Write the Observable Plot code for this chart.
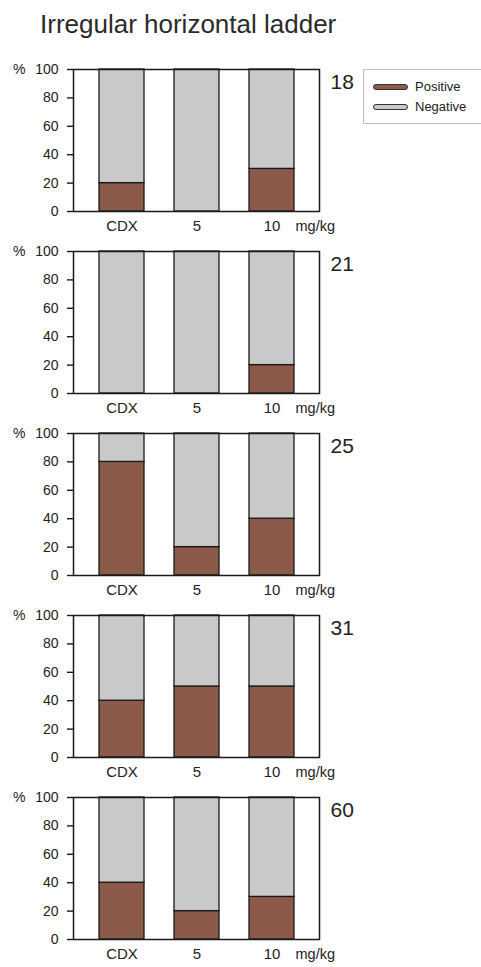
<!DOCTYPE html>
<html>
<head>
<meta charset="utf-8">
<script src="https://cdn.jsdelivr.net/npm/d3@7"></script>
<script src="https://cdn.jsdelivr.net/npm/@observablehq/plot@0.6"></script>
<style>
  html, body { margin: 0; padding: 0; background: #fff; }
  body { width: 481px; height: 967px; overflow: hidden; position: relative;
         font-family: "Liberation Sans", Arial, sans-serif; }
  #title { position: absolute; left: 40px; top: 9px; font-size: 26px; color: #2a2a2a;
           white-space: nowrap; }
  #chart { position: absolute; left: 0; top: 50px; }
  #legend { position: absolute; left: 363px; top: 69px; width: 130px; height: 55px;
            border: 1px solid #bdbdbd; box-sizing: border-box; font-size: 13px; color: #222; }
  .row { position: absolute; left: 9px; display: flex; align-items: center; }
  .sw { width: 33px; height: 4px; border: 1.5px solid #333; border-radius: 3px; margin-right: 7px; }
</style>
</head>
<body>
<div id="title">Irregular horizontal ladder</div>
<div id="chart"></div>
<div id="legend"></div>
<script>
// Days after dosing, one panel each
const days = [18, 21, 25, 31, 60];
// Treatment groups along the x axis
const doses = ["CDX", "5", "10"];
// Percent of animals scored positive, per day (rows) and dose (columns)
const positive = [
  [20, 0, 30],
  [0, 0, 20],
  [80, 20, 40],
  [40, 50, 50],
  [40, 20, 30]
];
const statuses = ["Positive", "Negative"];
const colors = ["#8c5a48", "#c9c9c9"];
const yTicks = [0, 20, 40, 60, 80, 100];

// Long table: positive share stacked under the negative remainder
const rows = [];
days.forEach((day, i) => {
  doses.forEach((dose, j) => {
    rows.push({day, dose, status: "Positive", value: positive[i][j]});
    rows.push({day, dose, status: "Negative", value: 100 - positive[i][j]});
  });
});

const chart = Plot.plot({
  width: 481,
  height: 916,
  marginTop: 19,
  marginLeft: 73,
  marginRight: 162,
  marginBottom: 27,
  style: {fontFamily: "Liberation Sans, Arial, sans-serif", color: "#222", background: "white"},
  x: {domain: doses, paddingInner: 0.4, paddingOuter: 0.34},
  y: {domain: [0, 100]},
  fy: {domain: days, paddingInner: 40 / 182, paddingOuter: 0, axis: null},
  color: {domain: statuses, range: colors},
  marks: [
    Plot.barY(rows.filter(d => d.value > 0), {
      x: "dose", y: "value", fy: "day", fill: "status",
      order: statuses, stroke: "#1a1a1a", strokeWidth: 1.3
    }),
    Plot.frame({stroke: "#1a1a1a", strokeWidth: 1.5}),
    Plot.axisY(yTicks, {
      facetAnchor: null, tickSize: 6, tickPadding: 9, fontSize: 14,
      strokeWidth: 1.4, stroke: "#1a1a1a", label: null,
      tickFormat: d => d === 100 ? "%\u2002\u2009100" : String(d)
    }),
    Plot.axisX({
      facetAnchor: null, tickSize: 0, tickPadding: 9, fontSize: 15, label: null
    }),
    Plot.text(days, {
      fy: d => d, text: () => "mg/kg", frameAnchor: "bottom-right",
      textAnchor: "start", lineAnchor: "top", dx: -24, dy: 9, fontSize: 14.5
    }),
    Plot.text(days, {
      fy: d => d, text: d => String(d), frameAnchor: "top-right",
      textAnchor: "start", lineAnchor: "middle", dx: 11, dy: 13, fontSize: 21
    })
  ]
});
document.getElementById("chart").appendChild(chart);

// Legend: rounded bar swatches for the two outcomes
const legend = document.getElementById("legend");
statuses.forEach((s, i) => {
  const row = document.createElement("div");
  row.className = "row";
  row.style.top = (i === 0 ? 9 : 29) + "px";
  const sw = document.createElement("div");
  sw.className = "sw";
  sw.style.background = colors[i];
  const label = document.createElement("span");
  label.textContent = s;
  row.appendChild(sw);
  row.appendChild(label);
  legend.appendChild(row);
});
</script>
</body>
</html>
